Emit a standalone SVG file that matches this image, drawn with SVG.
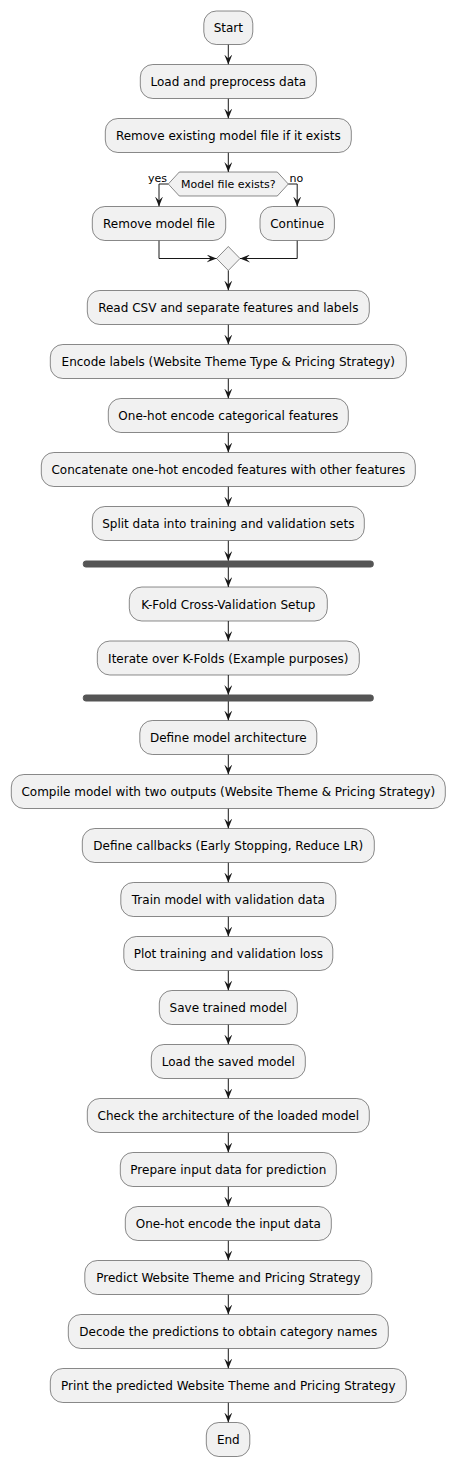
<svg xmlns="http://www.w3.org/2000/svg" width="455" height="1466" viewBox="0 0 455 1466">
<style>
.box{fill:#F1F1F1;stroke:#181818;stroke-width:0.5}
.t{font-family:"DejaVu Sans",sans-serif;font-size:12px;fill:#000;text-anchor:middle}
.s{font-family:"DejaVu Sans",sans-serif;font-size:11px;fill:#000}
.c{stroke:#181818;stroke-width:1;fill:none;marker-end:url(#ah)}
.bar{fill:#555555;stroke:#555555;stroke-width:1}
</style>
<defs>
<marker id="ah" viewBox="0 0 10 8" refX="10" refY="4" markerWidth="10" markerHeight="8" orient="auto" markerUnits="userSpaceOnUse">
<path d="M0,0 L10,4 L0,8 L4,4 Z" fill="#181818"/>
</marker>
</defs>
<rect width="455" height="1466" fill="#FFFFFF"/>
<g id="connectors">
<line class="c" x1="228.3" y1="44.5" x2="228.3" y2="64.5"/>
<line class="c" x1="228.3" y1="98.5" x2="228.3" y2="118.5"/>
<line class="c" x1="228.3" y1="152.5" x2="228.3" y2="172"/>
<polyline class="c" points="168.3,184 159,184 159,206.5"/>
<polyline class="c" points="288.3,184 297.2,184 297.2,206.5"/>
<polyline class="c" points="159,240.5 159,258.5 216.6,258.5"/>
<polyline class="c" points="297.2,240.5 297.2,258.5 240,258.5"/>
<line class="c" x1="228.3" y1="270.5" x2="228.3" y2="290.5"/>
<line class="c" x1="228.3" y1="324.5" x2="228.3" y2="344.5"/>
<line class="c" x1="228.3" y1="378.5" x2="228.3" y2="398.5"/>
<line class="c" x1="228.3" y1="432.5" x2="228.3" y2="452.5"/>
<line class="c" x1="228.3" y1="486.5" x2="228.3" y2="506.5"/>
<line class="c" x1="228.3" y1="540.5" x2="228.3" y2="561"/>
<line class="c" x1="228.3" y1="567" x2="228.3" y2="587"/>
<line class="c" x1="228.3" y1="621" x2="228.3" y2="641"/>
<line class="c" x1="228.3" y1="675" x2="228.3" y2="695"/>
<line class="c" x1="228.3" y1="701" x2="228.3" y2="720.5"/>
<line class="c" x1="228.3" y1="754.5" x2="228.3" y2="774.5"/>
<line class="c" x1="228.3" y1="808.5" x2="228.3" y2="828.5"/>
<line class="c" x1="228.3" y1="862.5" x2="228.3" y2="882.5"/>
<line class="c" x1="228.3" y1="916.5" x2="228.3" y2="936.5"/>
<line class="c" x1="228.3" y1="970.5" x2="228.3" y2="990.5"/>
<line class="c" x1="228.3" y1="1024.5" x2="228.3" y2="1044.5"/>
<line class="c" x1="228.3" y1="1078.5" x2="228.3" y2="1098.5"/>
<line class="c" x1="228.3" y1="1132.5" x2="228.3" y2="1152.5"/>
<line class="c" x1="228.3" y1="1186.5" x2="228.3" y2="1206.5"/>
<line class="c" x1="228.3" y1="1240.5" x2="228.3" y2="1260.5"/>
<line class="c" x1="228.3" y1="1294.5" x2="228.3" y2="1314.5"/>
<line class="c" x1="228.3" y1="1348.5" x2="228.3" y2="1368.5"/>
<line class="c" x1="228.3" y1="1402.5" x2="228.3" y2="1422.5"/>
</g>
<g id="start"><rect class="box" x="203.8" y="11" width="49" height="33.5" rx="12.5"/><text class="t" x="228.3" y="32.3">Start</text></g>
<g id="load"><rect class="box" x="140.3" y="64.5" width="176" height="34" rx="12.5"/><text class="t" x="228.3" y="86">Load and preprocess data</text></g>
<g id="removeExisting"><rect class="box" x="105.3" y="118.5" width="246" height="34" rx="12.5"/><text class="t" x="228.3" y="140">Remove existing model file if it exists</text></g>
<g id="decision"><polygon class="box" points="168.3,184 179.3,172 277.3,172 288.3,184 277.3,196 179.3,196"/><text class="s" x="228.3" y="188" text-anchor="middle">Model file exists?</text><text class="s" x="167" y="182" text-anchor="end">yes</text><text class="s" x="289.5" y="182">no</text></g>
<g id="removeModel"><rect class="box" x="92.3" y="206.5" width="133.4" height="34" rx="12.5"/><text class="t" x="159" y="228">Remove model file</text></g>
<g id="continue"><rect class="box" x="260" y="206.5" width="74.4" height="34" rx="12.5"/><text class="t" x="297.2" y="228">Continue</text></g>
<g id="merge"><polygon class="box" points="228.3,246.5 240,258.5 228.3,270.5 216.6,258.5"/></g>
<g id="readCsv"><rect class="box" x="87.3" y="290.5" width="282" height="34" rx="12.5"/><text class="t" x="228.3" y="312">Read CSV and separate features and labels</text></g>
<g id="encode"><rect class="box" x="50.3" y="344.5" width="356" height="34" rx="12.5"/><text class="t" x="228.3" y="366">Encode labels (Website Theme Type &amp; Pricing Strategy)</text></g>
<g id="onehot"><rect class="box" x="108.3" y="398.5" width="240" height="34" rx="12.5"/><text class="t" x="228.3" y="420">One-hot encode categorical features</text></g>
<g id="concat"><rect class="box" x="41.3" y="452.5" width="374" height="34" rx="12.5"/><text class="t" x="228.3" y="474">Concatenate one-hot encoded features with other features</text></g>
<g id="split"><rect class="box" x="92.3" y="506.5" width="272" height="34" rx="12.5"/><text class="t" x="228.3" y="528">Split data into training and validation sets</text></g>
<g id="fork1"><rect class="bar" x="83.3" y="561" width="290" height="6" rx="2.5"/></g>
<g id="kfold"><rect class="box" x="129.3" y="587" width="198" height="34" rx="12.5"/><text class="t" x="228.3" y="608.5">K-Fold Cross-Validation Setup</text></g>
<g id="iterate"><rect class="box" x="97.3" y="641" width="262" height="34" rx="12.5"/><text class="t" x="228.3" y="662.5">Iterate over K-Folds (Example purposes)</text></g>
<g id="fork2"><rect class="bar" x="83.3" y="695" width="290" height="6" rx="2.5"/></g>
<g id="defineArch"><rect class="box" x="139.8" y="720.5" width="177" height="34" rx="12.5"/><text class="t" x="228.3" y="742">Define model architecture</text></g>
<g id="compile"><rect class="box" x="11.3" y="774.5" width="434" height="34" rx="12.5"/><text class="t" x="228.3" y="796">Compile model with two outputs (Website Theme &amp; Pricing Strategy)</text></g>
<g id="callbacks"><rect class="box" x="82.3" y="828.5" width="292" height="34" rx="12.5"/><text class="t" x="228.3" y="850">Define callbacks (Early Stopping, Reduce LR)</text></g>
<g id="train"><rect class="box" x="120.8" y="882.5" width="215" height="34" rx="12.5"/><text class="t" x="228.3" y="904">Train model with validation data</text></g>
<g id="plot"><rect class="box" x="123.8" y="936.5" width="209" height="34" rx="12.5"/><text class="t" x="228.3" y="958">Plot training and validation loss</text></g>
<g id="save"><rect class="box" x="159.3" y="990.5" width="138" height="34" rx="12.5"/><text class="t" x="228.3" y="1012">Save trained model</text></g>
<g id="loadSaved"><rect class="box" x="151.3" y="1044.5" width="154" height="34" rx="12.5"/><text class="t" x="228.3" y="1066">Load the saved model</text></g>
<g id="check"><rect class="box" x="87.3" y="1098.5" width="282" height="34" rx="12.5"/><text class="t" x="228.3" y="1120">Check the architecture of the loaded model</text></g>
<g id="prepare"><rect class="box" x="120.3" y="1152.5" width="216" height="34" rx="12.5"/><text class="t" x="228.3" y="1174">Prepare input data for prediction</text></g>
<g id="onehotInput"><rect class="box" x="125.3" y="1206.5" width="206" height="34" rx="12.5"/><text class="t" x="228.3" y="1228">One-hot encode the input data</text></g>
<g id="predict"><rect class="box" x="84.8" y="1260.5" width="287" height="34" rx="12.5"/><text class="t" x="228.3" y="1282">Predict Website Theme and Pricing Strategy</text></g>
<g id="decode"><rect class="box" x="68.3" y="1314.5" width="320" height="34" rx="12.5"/><text class="t" x="228.3" y="1336">Decode the predictions to obtain category names</text></g>
<g id="print"><rect class="box" x="50.3" y="1368.5" width="356" height="34" rx="12.5"/><text class="t" x="228.3" y="1390">Print the predicted Website Theme and Pricing Strategy</text></g>
<g id="end"><rect class="box" x="206.3" y="1422.5" width="43.5" height="34" rx="12.5"/><text class="t" x="228.3" y="1444">End</text></g>
</svg>
